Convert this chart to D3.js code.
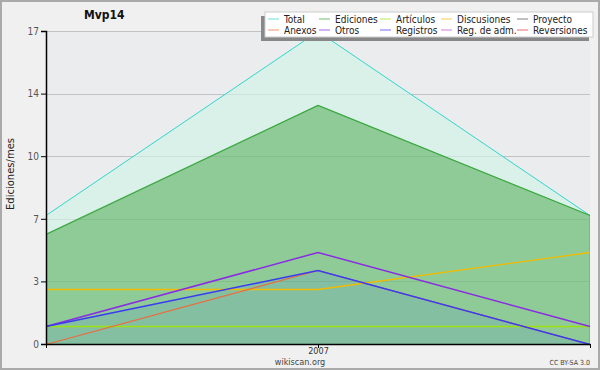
<!DOCTYPE html>
<html>
<head>
<meta charset="utf-8">
<script src="https://cdn.jsdelivr.net/npm/d3@7"></script>
<style>
    body { margin: 0; background: #f0f0f0; }
    text { font-family: "DejaVu Sans Condensed", "DejaVu Sans", sans-serif; }
</style>
</head>
<body>
<script>
//months on the x axis
var months = ["2006-12", "2007-01", "2007-02"];
//series values, one per month
var total = [7, 17, 7];
var ediciones = [6, 13, 7];
var articulos = [1, 1, 1];
var discusiones = [3, 3, 5];
var proyecto = [0, 0, 0];
var anexos = [0, 4, 0];
var otros = [1, 5, 1];
var registros = [1, 4, 0];
var regAdm = [0, 0, 0];
var reversiones = [0, 0, 0];
//legend labels, in reading order (two rows of five)
var legendRow1 = ["Total", "Ediciones", "Artículos", "Discusiones", "Proyecto"];
var legendRow2 = ["Anexos", "Otros", "Registros", "Reg. de adm.", "Reversiones"];
var yMax = 17;

window.onload = drawChart();

function drawChart(){
    var width = 600,
        height = 370;
    var margin = {top: 31, right: 10, bottom: 26, left: 46};

    var svg = d3.select("body")
        .append("svg")
        .attr("width", width)
        .attr("height", height);

    //outer frame
    svg.append("rect")
        .attr("x", 1).attr("y", 1)
        .attr("width", width - 2).attr("height", height - 2)
        .attr("fill", "#f0f0f0")
        .attr("stroke", "#aaa")
        .attr("stroke-width", 2);

    var x = d3.scalePoint()
        .domain(months)
        .range([margin.left, width - margin.right]);
    var y = d3.scaleLinear()
        .domain([0, yMax])
        .range([height - margin.bottom, margin.top]);

    //plot background
    svg.append("rect")
        .attr("x", margin.left).attr("y", margin.top)
        .attr("width", width - margin.left - margin.right)
        .attr("height", height - margin.top - margin.bottom)
        .attr("fill", "#ebecee");

    var majors = d3.range(0, 6).map(function(i){ return yMax * i / 5; });
    var minors = d3.range(0, 26).map(function(i){ return yMax * i / 25; });

    //grid lines behind everything
    svg.selectAll(".grid")
        .data(majors)
        .enter()
        .append("line")
        .attr("class", "grid")
        .attr("x1", margin.left).attr("x2", width - margin.right)
        .attr("y1", function(d){ return Math.round(y(d)) + 0.5; })
        .attr("y2", function(d){ return Math.round(y(d)) + 0.5; })
        .attr("stroke", "#cfcfd2");

    //areas
    var area = d3.area()
        .x(function(d, i){ return x(months[i]); })
        .y0(y(0))
        .y1(function(d){ return y(d); });

    var areas = [
        {values: total, fill: "#daf1ea"},
        {values: ediciones, fill: "#8fcb97"},
        {values: registros, fill: "#84bfa2"}
    ];
    svg.selectAll(".area")
        .data(areas)
        .enter()
        .append("path")
        .attr("class", "area")
        .attr("d", function(d){ return area(d.values); })
        .attr("fill", function(d){ return d.fill; });

    //grid lines showing faintly through the areas
    svg.selectAll(".gridOver")
        .data(majors.slice(1))
        .enter()
        .append("line")
        .attr("class", "gridOver")
        .attr("x1", margin.left).attr("x2", width - margin.right)
        .attr("y1", function(d){ return Math.round(y(d)) + 0.5; })
        .attr("y2", function(d){ return Math.round(y(d)) + 0.5; })
        .attr("stroke", "rgba(0,0,0,0.06)");

    //edge of the ediciones area on the right
    svg.append("line")
        .attr("x1", x(months[2]) - 0.5).attr("x2", x(months[2]) - 0.5)
        .attr("y1", y(ediciones[2])).attr("y2", y(0))
        .attr("stroke", "#6fbf7a");

    //lines
    var line = d3.line()
        .x(function(d, i){ return x(months[i]); })
        .y(function(d){ return Math.round(y(d)) + 0.5; });

    var series = [
        {name: "Proyecto", values: proyecto, color: "#555555", w: 1.2},
        {name: "Reg. de adm.", values: regAdm, color: "#cc44dd", w: 1.2},
        {name: "Reversiones", values: reversiones, color: "#e83030", w: 1.2},
        {name: "Total", values: total, color: "#33d6cc", w: 1},
        {name: "Ediciones", values: ediciones, color: "#3aa83f", w: 1.2},
        {name: "Artículos", values: articulos, color: "#9ee010", w: 1.6},
        {name: "Discusiones", values: discusiones, color: "#f2bb00", w: 1.3},
        {name: "Anexos", values: anexos, color: "#ee6a3a", w: 1.2},
        {name: "Otros", values: otros, color: "#8a2be2", w: 1.5},
        {name: "Registros", values: registros, color: "#3a3af0", w: 1.5}
    ];
    svg.selectAll(".series")
        .data(series)
        .enter()
        .append("path")
        .attr("class", "series")
        .attr("d", function(d){ return line(d.values); })
        .attr("fill", "none")
        .attr("stroke", function(d){ return d.color; })
        .attr("stroke-width", function(d){ return d.w; });

    //y axis with minor ticks
    var yAxis = svg.append("g")
        .attr("transform", "translate(" + margin.left + ",0)");
    yAxis.call(d3.axisLeft(y)
        .tickValues(minors)
        .tickSize(4)
        .tickFormat(""));
    yAxis.call(d3.axisLeft(y)
        .tickValues(majors)
        .tickSize(5)
        .tickPadding(2)
        .tickFormat(function(d){ return Math.round(d); }));
    yAxis.selectAll(".domain").attr("stroke", "#000").attr("stroke-width", 1.5);
    yAxis.selectAll("line").attr("stroke", "#000");
    yAxis.selectAll("text")
        .attr("fill", "#555")
        .style("font-size", "10px")
        .style("font-family", "'DejaVu Sans Condensed', 'DejaVu Sans', sans-serif");

    //x axis
    var xAxis = svg.append("g")
        .attr("transform", "translate(0," + y(0) + ")")
        .call(d3.axisBottom(x)
            .tickValues(months)
            .tickSize(4)
            .tickSizeOuter(0)
            .tickPadding(0)
            .tickFormat(function(d){ return d.slice(5) == "01" ? d.slice(0, 4) : ""; }));
    xAxis.selectAll(".domain").attr("stroke", "#000").attr("stroke-width", 1.5);
    xAxis.selectAll("line").attr("stroke", "#000");
    xAxis.selectAll("text")
        .attr("fill", "#333")
        .style("font-size", "9px")
        .style("font-family", "'DejaVu Sans Condensed', 'DejaVu Sans', sans-serif");

    //title
    svg.append("text")
        .attr("x", 84).attr("y", 19)
        .style("font-size", "12px")
        .style("font-weight", "bold")
        .attr("fill", "#111")
        .text("Mvp14");

    //y axis title
    svg.append("text")
        .attr("transform", "translate(14,174) rotate(-90)")
        .attr("text-anchor", "middle")
        .style("font-size", "10px")
        .style("font-family", "'DejaVu Sans', sans-serif")
        .attr("fill", "#222")
        .text("Ediciones/mes");

    //footer texts
    svg.append("text")
        .attr("x", 300).attr("y", 365)
        .attr("text-anchor", "middle")
        .style("font-size", "9px")
        .attr("fill", "#444")
        .text("wikiscan.org");
    svg.append("text")
        .attr("x", 590).attr("y", 365)
        .attr("text-anchor", "end")
        .style("font-size", "7px")
        .attr("fill", "#444")
        .text("CC BY-SA 3.0");

    drawLegend(svg, series);
}

function drawLegend(svg, series){
    var colorOf = {};
    series.forEach(function(s){ colorOf[s.name] = s.color; });

    var lx = 265, ly = 12, lw = 328, lh = 25;
    //shadow then box
    svg.append("rect")
        .attr("x", lx - 4).attr("y", ly + 4)
        .attr("width", lw).attr("height", lh)
        .attr("fill", "#888");
    svg.append("rect")
        .attr("x", lx).attr("y", ly)
        .attr("width", lw).attr("height", lh)
        .attr("fill", "#fff")
        .attr("stroke", "#ccc");

    var colX = [268, 319, 380, 441, 517];
    var rows = [legendRow1, legendRow2];
    rows.forEach(function(row, r){
        var yy = ly + 7 + r * 11;
        row.forEach(function(name, c){
            svg.append("line")
                .attr("x1", colX[c]).attr("x2", colX[c] + 11)
                .attr("y1", yy).attr("y2", yy)
                .attr("stroke", colorOf[name])
                .attr("stroke-opacity", 0.6)
                .attr("stroke-width", 1.2);
            svg.append("text")
                .attr("x", colX[c] + 16).attr("y", yy + 3.5)
                .style("font-size", "10px")
                .attr("fill", "#222")
                .text(name);
        });
    });
}
</script>
</body>
</html>
